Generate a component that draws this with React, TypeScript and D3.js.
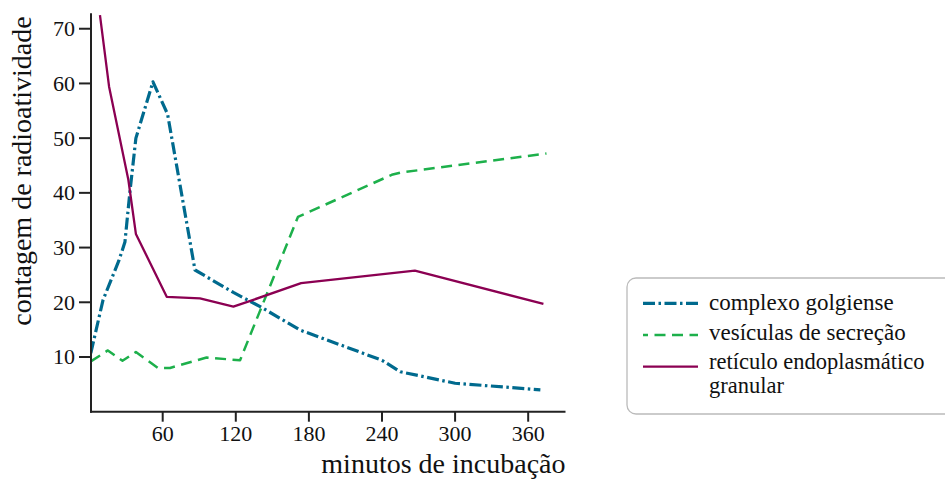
import React from "react";
import * as d3 from "d3";

const golgiX = [1, 11, 24, 29, 33, 38, 52, 64, 86.5, 118, 140, 173, 189, 240, 255, 300, 370];
const golgiY = [10.7, 20.4, 27.6, 31, 40, 50, 60.3, 54.4, 25.9, 21.8, 19.2, 14.9, 13.6, 9.4, 7.3, 5.2, 4.0];

const vesX = [1, 15, 27, 38, 56, 66, 96, 123.5, 171, 248, 255, 375];
const vesY = [9.2, 11.2, 9.3, 10.9, 8.0, 8.0, 9.9, 9.4, 35.6, 43.3, 43.7, 47.2];

const retX = [8.5, 16, 31.8, 38, 63.3, 90.6, 118, 135, 173.6, 267, 372.5];
const retY = [72.5, 59.4, 42.4, 32.5, 21.0, 20.7, 19.2, 20.5, 23.5, 25.8, 19.7];

const xTicks = [60, 120, 180, 240, 300, 360];
const yTicks = [10, 20, 30, 40, 50, 60, 70];

const seriesNames = ["complexo golgiense", "vesículas de secreção", "retículo endoplasmático granular"];
const colors = ["#006a8e", "#1db04b", "#8b0052"];
const dashes = ["12,3.5,2.5,3.5", "11,6.5", ""];
const widths = [3.2, 2.5, 2.3];

const FONT = "'Liberation Serif', 'DejaVu Serif', serif";

export default function App() {
  const W = 945, H = 479;
  const x0 = 91, x1 = 565.5, yBot = 411.7, yTop = 13.3;
  const x = d3.scaleLinear().domain([0, 390]).range([89.6, 89.6 + 390 * 1.2183]);
  const y = d3.scaleLinear().domain([0, 73]).range([yBot, yBot - 73 * 5.471]);
  const line = d3.line<[number, number]>().x(d => x(d[0])).y(d => y(d[1]));
  const data: [number, number][][] = [
    golgiX.map((v, i) => [v, golgiY[i]]),
    vesX.map((v, i) => [v, vesY[i]]),
    retX.map((v, i) => [v, retY[i]]),
  ];
  const legendRows = [303.3, 335, 366.7];
  const legendOffsets = [0, 6, 0];
  return (
    <svg width={W} height={H} style={{ position: "absolute", left: 0, top: 0, background: "#fff", fontFamily: FONT }}>
      <defs>
        <clipPath id="plot">
          <rect x={x0} y={yTop} width={x1 - x0} height={yBot - yTop} />
        </clipPath>
      </defs>
      <g clipPath="url(#plot)">
        {data.map((d, i) => (
          <path key={i} d={line(d) || ""} fill="none" stroke={colors[i]} strokeWidth={widths[i]}
            strokeDasharray={dashes[i] || undefined} strokeLinejoin="round" />
        ))}
      </g>
      <line x1={x0} x2={x0} y1={yTop} y2={yBot + 1} stroke="#222" strokeWidth={2} />
      <line x1={x0 - 1} x2={x1} y1={yBot} y2={yBot} stroke="#222" strokeWidth={2} />
      {yTicks.map(t => (
        <g key={t}>
          <line x1={x0 - 12} x2={x0} y1={y(t)} y2={y(t)} stroke="#222" strokeWidth={2} />
          <text x={75} y={y(t)} dy="0.34em" textAnchor="end" fontSize={22} fill="#111">{t}</text>
        </g>
      ))}
      {xTicks.map(t => (
        <g key={t}>
          <line x1={x(t)} x2={x(t)} y1={yBot} y2={yBot + 10} stroke="#222" strokeWidth={2} />
          <text x={x(t)} y={440.5} textAnchor="middle" fontSize={22} fill="#111">{t}</text>
        </g>
      ))}
      <text x={x1} y={473} textAnchor="end" fontSize={28} fill="#111">minutos de incubação</text>
      <text transform={`translate(31,171) rotate(-90)`} textAnchor="middle" fontSize={28} fill="#111">contagem de radioatividade</text>
      <rect x={627} y={278} width={330} height={136} rx={9} ry={9} fill="#fff" stroke="#bbb" strokeWidth={1.3} />
      {seriesNames.map((name, i) => (
        <line key={name} x1={643} x2={698} y1={legendRows[i]} y2={legendRows[i]} stroke={colors[i]} strokeWidth={widths[i]}
          strokeDasharray={dashes[i] || undefined} strokeDashoffset={legendOffsets[i]} />
      ))}
      <text x={709} y={310} fontSize={23} fill="#111">{seriesNames[0]}</text>
      <text x={709} y={340} fontSize={23} fill="#111">{seriesNames[1]}</text>
      <text x={709} y={369} fontSize={22.5} fill="#111">retículo endoplasmático</text>
      <text x={709} y={393} fontSize={22.5} fill="#111">granular</text>
    </svg>
  );
}
